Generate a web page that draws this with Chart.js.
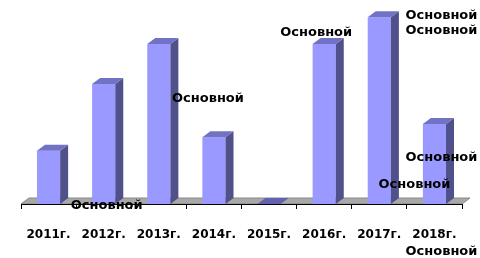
<!DOCTYPE html>
<html>
<head>
<meta charset="utf-8">
<script src="https://cdn.jsdelivr.net/npm/chart.js@4.4.1/dist/chart.umd.min.js"></script>
<style>
  html, body { margin: 0; padding: 0; background: #fff; }
  #wrap { width: 480px; height: 258px; }
</style>
</head>
<body>
<div id="wrap"><canvas id="chart"></canvas></div>
<script>
// Data
const years = ['2011г.', '2012г.', '2013г.', '2014г.', '2015г.', '2016г.', '2017г.', '2018г.'];
const values = [2, 4.5, 6, 2.5, 0, 6, 7, 3];
const labelText = 'Основной';

// the (oddly placed) data labels: [category index, px right of its centre, px below the axis]
const labelAnchors = [[1, 3, 2], [3, -6, -105], [5, -8, -171], [7, 7, -188], [7, 7, -173], [7, 7, -46], [7, -20, -19], [7, 7, 48]];

const FONT = 'bold 13px "DejaVu Sans"';
const DX = 8, DY = -6;

function poly(ctx, pts, fill, stroke) {
  ctx.beginPath();
  ctx.moveTo(pts[0][0], pts[0][1]);
  for (let i = 1; i < pts.length; i++) ctx.lineTo(pts[i][0], pts[i][1]);
  ctx.closePath();
  ctx.fillStyle = fill;
  ctx.fill();
  if (stroke) {
    ctx.strokeStyle = stroke;
    ctx.lineWidth = 1;
    ctx.stroke();
  }
}

// grey floor under the bars
const floorPlugin = {
  id: 'floor',
  beforeDraw(chart) {
    const { ctx, chartArea: a } = chart;
    ctx.save();
    poly(ctx, [[a.left, a.bottom], [a.left + DX, a.bottom + DY], [a.right + DX, a.bottom + DY], [a.right, a.bottom]], '#a8a8a8', '#888');
    ctx.restore();
  }
};

// top and side faces of the bars, plus the labels
const depthPlugin = {
  id: 'depth',
  afterDatasetsDraw(chart) {
    const { ctx } = chart;
    const meta = chart.getDatasetMeta(0);
    ctx.save();
    meta.data.forEach(bar => {
      const l = bar.x - bar.width / 2;
      const r = bar.x + bar.width / 2;
      const top = bar.y, base = bar.base;
      if (base - top > 0.5) {
        poly(ctx, [[r, top], [r + DX, top + DY], [r + DX, base + DY], [r, base]], '#50508a');
      }
      poly(ctx, [[l, top], [l + DX, top + DY], [r + DX, top + DY], [r, top]], base - top > 0.5 ? '#7272c4' : '#6262b0');
    });
    ctx.restore();
  },
  afterDraw(chart) {
    const { ctx, chartArea } = chart;
    const xs = chart.scales.x;
    ctx.save();
    ctx.font = FONT;
    ctx.fillStyle = '#000';
    ctx.textAlign = 'center';
    ctx.textBaseline = 'middle';
    labelAnchors.forEach(([c, dx, dy]) => {
      ctx.fillText(labelText, xs.getPixelForValue(c) + dx, chartArea.bottom + dy);
    });
    ctx.restore();
  }
};

new Chart(document.getElementById('chart'), {
  type: 'bar',
  data: {
    labels: years,
    datasets: [{
      data: values,
      backgroundColor: '#9999ff',
      borderWidth: 0,
      barPercentage: 0.42,
      categoryPercentage: 1
    }]
  },
  options: {
    responsive: true,
    maintainAspectRatio: false,
    animation: false,
    layout: { padding: { left: 21, right: 18, top: 4, bottom: 0 } },
    plugins: { legend: { display: false }, tooltip: { enabled: false } },
    scales: {
      x: {
        afterFit(scale) { scale.height = 54; },
        grid: { drawOnChartArea: false, tickLength: 5, color: '#000', offset: true },
        border: { color: '#000', width: 1 },
        ticks: { font: { family: 'DejaVu Sans', size: 12, weight: 'bold' }, color: '#000', padding: 19, maxRotation: 0 }
      },
      y: { display: false, min: 0, max: 7.5 }
    }
  },
  plugins: [floorPlugin, depthPlugin]
});
</script>
</body>
</html>
